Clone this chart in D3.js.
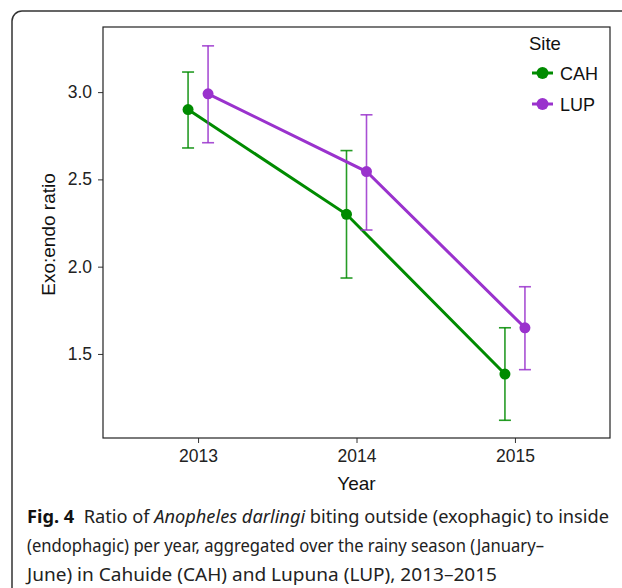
<!DOCTYPE html>
<html>
<head>
<meta charset="utf-8">
<script src="https://cdn.jsdelivr.net/npm/d3@7"></script>
<style>
  body { margin: 0; background: #fff; }
  svg { display: block; }
  .arial { font-family: "Liberation Sans", Arial, sans-serif; }
</style>
</head>
<body>
<svg id="chart" width="622" height="588"></svg>
<script>
const years = [2013, 2014, 2015];
const sites = ["CAH", "LUP"];
const siteColors = ["#008b00", "#9a32cd"];
const cahMean = [2.9, 2.3, 1.385];
const cahLow = [2.68, 1.935, 1.12];
const cahHigh = [3.115, 2.665, 1.65];
const lupMean = [2.99, 2.545, 1.65];
const lupLow = [2.71, 2.21, 1.41];
const lupHigh = [3.265, 2.87, 1.885];
const yTicks = [1.5, 2.0, 2.5, 3.0];
const captionLines = [
  [["Fig. 4", "bold"], ["  Ratio of ", ""], ["Anopheles darlingi", "italic"], [" biting outside (exophagic) to inside", ""]],
  [["(endophagic) per year, aggregated over the rainy season (January–", ""]],
  [["June) in Cahuide (CAH) and Lupuna (LUP), 2013–2015", ""]]
];

const series = [
  { name: sites[0], color: siteColors[0], dodge: -10, mean: cahMean, low: cahLow, high: cahHigh },
  { name: sites[1], color: siteColors[1], dodge: 10, mean: lupMean, low: lupLow, high: lupHigh }
];

const svg = d3.select("#chart");
const panel = { left: 103, right: 610, top: 27, bottom: 438 };

// rounded figure frame
svg.append("rect")
  .attr("x", 12).attr("y", 11)
  .attr("width", 640).attr("height", 600)
  .attr("rx", 10)
  .attr("fill", "none").attr("stroke", "#333").attr("stroke-width", 1.5);

const x = d3.scaleLinear().domain([2012.4, 2015.6]).range([panel.left, panel.right]);
const y = d3.scaleLinear().domain([1.0185, 3.373]).range([panel.bottom, panel.top]);

svg.append("g")
  .attr("transform", `translate(0,${panel.bottom})`)
  .call(d3.axisBottom(x).tickValues(years).tickFormat(d3.format("d")).tickSize(5).tickSizeOuter(0))
  .call(g => g.select(".domain").remove())
  .call(g => g.selectAll("line").attr("stroke", "#333"))
  .call(g => g.selectAll("text").attr("class", "arial")
    .style("font-size", "17.5px").attr("fill", "#222").attr("dy", null).attr("y", 24));

svg.append("g")
  .attr("transform", `translate(${panel.left},0)`)
  .call(d3.axisLeft(y).tickValues(yTicks).tickFormat(d3.format(".1f")).tickSize(5).tickSizeOuter(0))
  .call(g => g.select(".domain").remove())
  .call(g => g.selectAll("line").attr("stroke", "#333"))
  .call(g => g.selectAll("text").attr("class", "arial")
    .style("font-size", "17.5px").attr("fill", "#222").attr("x", -11));

svg.selectAll("g").attr("font-family", null).attr("font-size", null);

svg.append("rect")
  .attr("x", panel.left).attr("y", panel.top)
  .attr("width", panel.right - panel.left).attr("height", panel.bottom - panel.top)
  .attr("fill", "none").attr("stroke", "#222").attr("stroke-width", 1.2);

svg.append("text")
  .attr("class", "arial")
  .attr("x", x(2014)).attr("y", 490)
  .attr("text-anchor", "middle")
  .style("font-size", "19px").attr("fill", "#111")
  .text("Year");

svg.append("text")
  .attr("class", "arial")
  .attr("transform", `translate(55,${(panel.top + panel.bottom) / 2 + 2}) rotate(-90)`)
  .attr("text-anchor", "middle")
  .style("font-size", "19px").attr("fill", "#111")
  .text("Exo:endo ratio");

const marks = svg.append("g");

series.forEach(s => {
  const pts = years.map((yr, i) => ({ cx: x(yr) + s.dodge, m: s.mean[i], lo: s.low[i], hi: s.high[i] }));
  const grp = marks.append("g");

  // error bars
  pts.forEach(p => {
    grp.append("line").attr("x1", p.cx).attr("x2", p.cx).attr("y1", y(p.lo)).attr("y2", y(p.hi))
      .attr("stroke", s.color).attr("stroke-width", 1.6).attr("opacity", 0.85);
    [p.lo, p.hi].forEach(v => {
      grp.append("line").attr("x1", p.cx - 6).attr("x2", p.cx + 6).attr("y1", y(v)).attr("y2", y(v))
        .attr("stroke", s.color).attr("stroke-width", 1.6).attr("opacity", 0.85);
    });
  });

  grp.append("path")
    .datum(pts)
    .attr("fill", "none").attr("stroke", s.color).attr("stroke-width", 3)
    .attr("d", d3.line().x(d => d.cx).y(d => y(d.m)));

  grp.selectAll("circle")
    .data(pts)
    .enter()
    .append("circle")
    .attr("cx", d => d.cx).attr("cy", d => y(d.m)).attr("r", 5.5)
    .attr("fill", s.color);
});

// legend
const legend = svg.append("g");
legend.append("text")
  .attr("class", "arial")
  .attr("x", 529).attr("y", 50)
  .style("font-size", "18.5px").attr("fill", "#111")
  .text("Site");
series.forEach((s, i) => {
  const ly = 73 + i * 31;
  legend.append("line").attr("x1", 532).attr("x2", 553).attr("y1", ly).attr("y2", ly)
    .attr("stroke", s.color).attr("stroke-width", 3);
  legend.append("circle").attr("cx", 542.5).attr("cy", ly).attr("r", 6).attr("fill", s.color);
  legend.append("text")
    .attr("class", "arial")
    .attr("x", 560).attr("y", ly + 6.5)
    .style("font-size", "18px").attr("fill", "#111")
    .text(s.name);
});

// caption
const captionWidths = [582, 517, 470];
captionLines.forEach((parts, i) => {
  const t = svg.append("text")
    .attr("x", 27).attr("y", 523 + i * 29)
    .style("font-family", "'Noto Sans', 'Open Sans', sans-serif").style("font-size", "18.5px").attr("fill", "#222")
    .attr("textLength", captionWidths[i]).attr("lengthAdjust", "spacingAndGlyphs")
    .attr("xml:space", "preserve");
  parts.forEach(([str, style]) => {
    const sp = t.append("tspan").text(str);
    if (style === "bold") sp.attr("font-weight", "bold").attr("fill", "#111");
    if (style === "italic") sp.attr("font-style", "italic");
  });
});
</script>
</body>
</html>
